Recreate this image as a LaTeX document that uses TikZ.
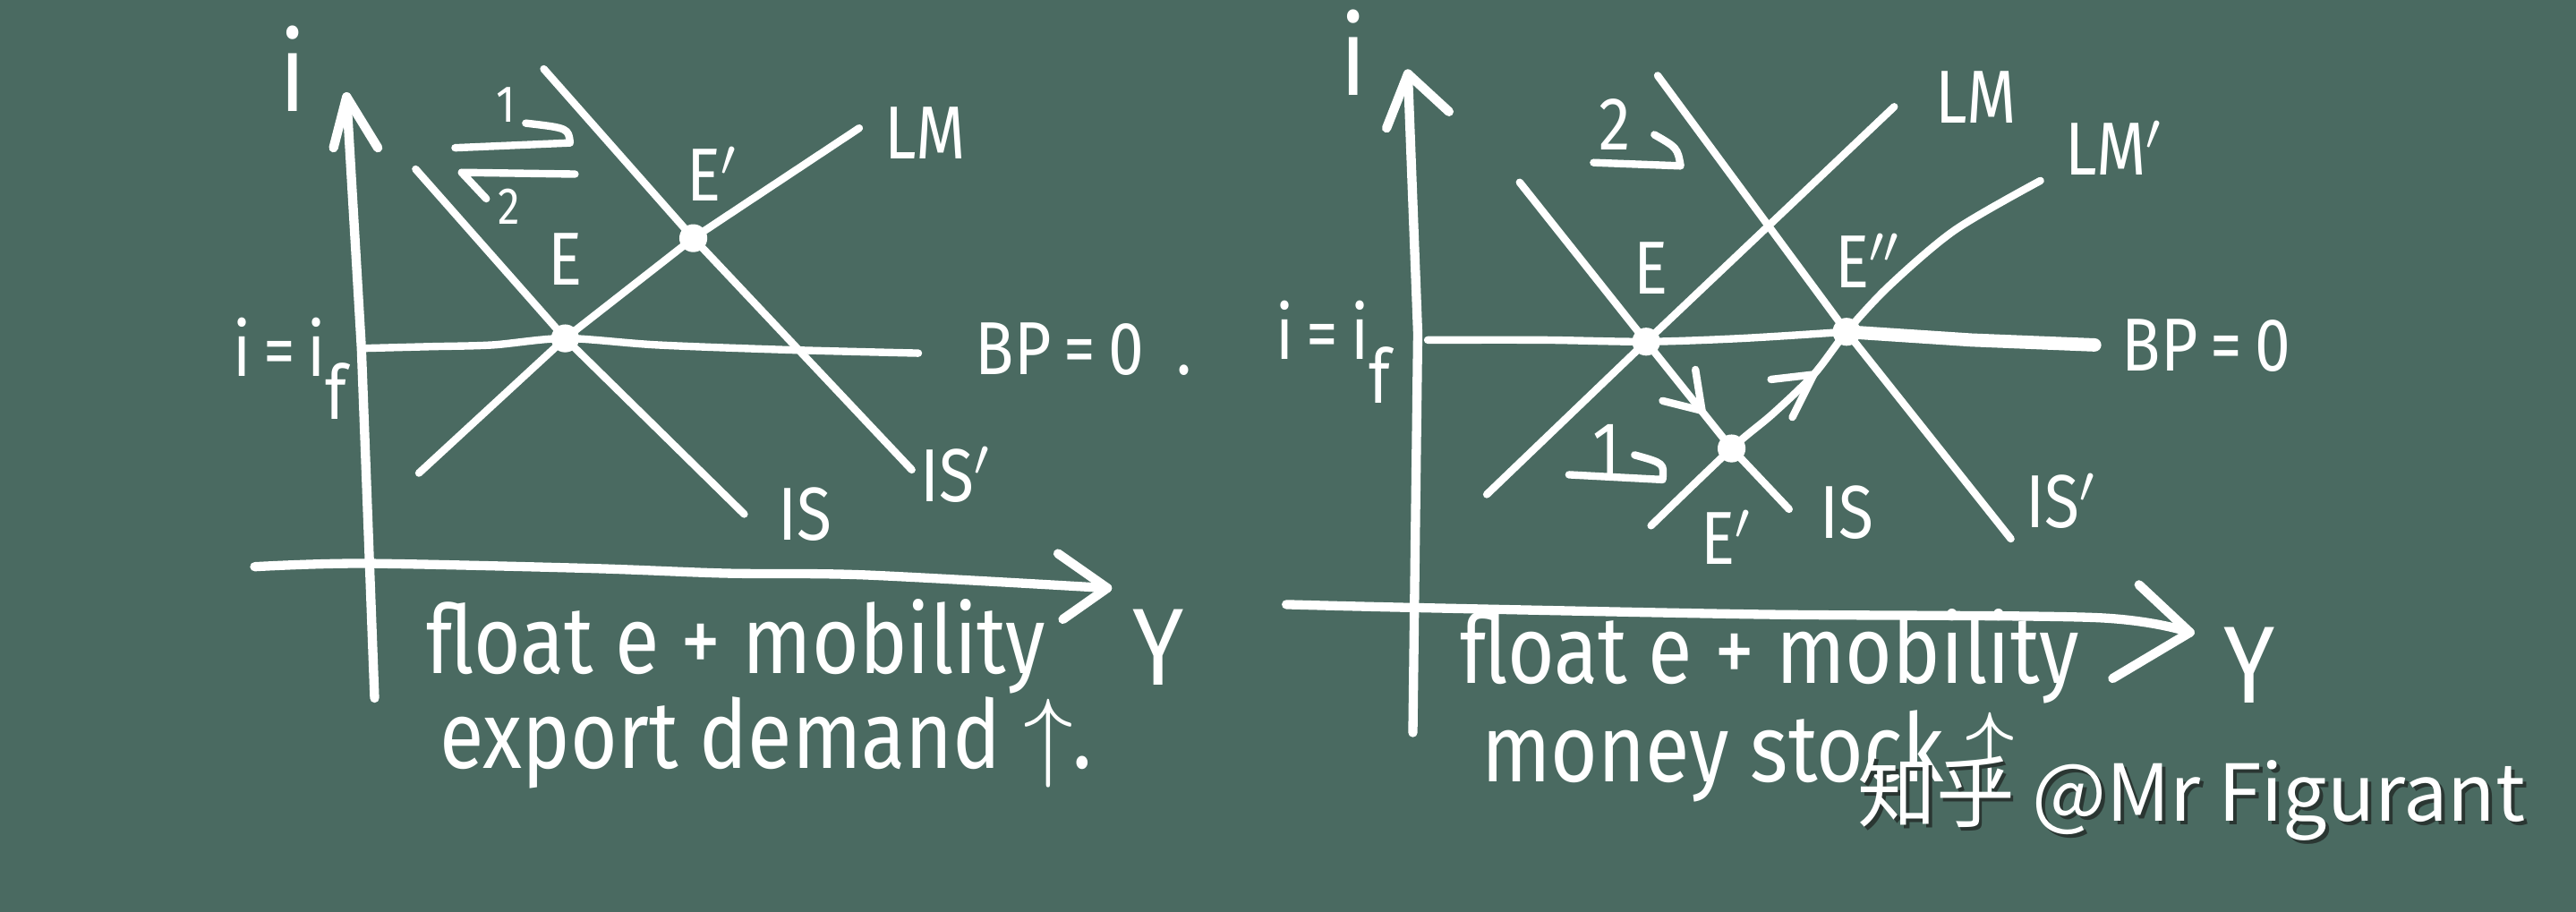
\documentclass[tikz,border=0pt]{standalone}
\usepackage{fontspec}
\setmainfont{Fira Sans}
\newfontfamily\hand[FakeStretch=0.85]{Fira Sans}
\newfontfamily\zhfont{Noto Sans CJK SC}
\definecolor{board}{RGB}{74,106,97}
\definecolor{shade}{RGB}{42,54,50}

\begin{document}
\begin{tikzpicture}[x=0.1mm,y=-0.1mm,
    chalk/.style={white,line width=1.3pt,line cap=round,line join=round},
    axis/.style={chalk,line width=1.6pt},
    dot/.style={circle,fill=white,minimum size=1.7mm,inner sep=0pt},
    lbl/.style={text=white,inner sep=0pt,font=\hand\fontsize{13}{15}\selectfont},
    num/.style={lbl,font=\hand\fontsize{9}{11}\selectfont},
    axlbl/.style={text=white,inner sep=0pt,font=\hand\fontsize{19}{22}\selectfont},
    caption/.style={text=white,inner sep=0pt,anchor=base west,font=\hand\fontsize{16.5}{20}\selectfont}]
\fill[board] (0,0) rectangle (1568,555);
\useasboundingbox (0,0) rectangle (1568,555);

% left diagram: export demand up
\node[dot] (E1) at (344,206) {};
\node[dot] (Ep1) at (422,145) {};
\coordinate (ytop1) at (211,59);
\coordinate (xtip1) at (674,358);
\draw[axis] (228,425) -- (220,212) -- (ytop1);
\draw[axis] (203,90) -- (ytop1) -- (230,90);
\draw[axis] plot[smooth] coordinates {(155,345) (221,343) (359,346) (442,349) (526,350) (xtip1)};
\draw[axis] (644,337) -- (xtip1) -- (647,377);
\draw[chalk] plot[smooth] coordinates {(223,212) (262,211) (300,210) (E1.center) (400,210) (480,213) (559,215)};
\draw[chalk] (255,288) -- (E1.center) -- (Ep1.center) -- (523,78);
\draw[chalk] (253,103) -- (E1.center) -- (453,313);
\draw[chalk] (331,42) -- (Ep1.center) -- (555,286);
\draw[chalk] (277,90) -- (347,87) .. controls (346,78) .. (320,75);
\draw[chalk] (350,106) -- (281,105) -- (296,121);

\node[axlbl] (i1) at (178,42) {i};
\node[axlbl] (Y1) at (705,394) {Y};
\node[lbl,anchor=base west] (if1) at (141,229) {i\,=\,i\raisebox{-1.1ex}{f}};
\node[lbl,anchor=base west] (bp1) at (593,228) {BP\,=\,0\hspace{2mm}.};
\node[lbl] (lE1) at (344,158) {E};
\node[lbl] (lEp1) at (434,106) {E$'$};
\node[lbl] (lLM1) at (563,81) {LM};
\node[lbl] (lIS1) at (490,313) {IS};
\node[lbl] (lISp1) at (582,289) {IS$'$};
\node[num] (n11) at (308,64) {1};
\node[num] (n21) at (310,126) {2};
\node[caption] (c11) at (259,410) {float e + mobility};
\node[caption] (c21) at (267,468) {export demand $\uparrow$.};

% right diagram: money stock up
\node[dot] (E2) at (1002,208) {};
\node[dot] (Epp2) at (1124,202) {};
\node[dot] (Ep2) at (1054,273) {};
\coordinate (ytop2) at (857,45);
\coordinate (xtip2) at (1333,385);
\draw[axis] (860,446) -- (863,203) -- (ytop2);
\draw[axis] (844,78) -- (ytop2) -- (882,68);
\draw[axis] plot[smooth] coordinates {(783,368) (865,370) (1071,374) (1276,376) (xtip2)};
\draw[axis] (1302,356) -- (xtip2) -- (1286,413);
\draw[chalk] plot[smooth] coordinates {(869,207) (940,207) (E2.center) (1060,206) (Epp2.center)};
\draw[chalk,line width=2.3pt] (Epp2.center) -- (1200,207) -- (1275,210);
\draw[chalk] (905,301) -- (E2.center) -- (1153,65);
\draw[chalk] plot[smooth] coordinates {(1005,320) (Ep2.center) (1079,252) (1104,228) (Epp2.center) (1150,174) (1190,140) (1242,110)};
\draw[chalk] (925,111) -- (E2.center) -- (Ep2.center) -- (1089,310);
\draw[chalk] (1009,46) -- (Epp2.center) -- (1224,328);
% small arrows along the path E -> E' -> E''
\coordinate (tipA) at (1036,250);
\coordinate (tipB) at (1104,228);
\draw[chalk] (tipA) ++(-24,-6) -- (tipA) -- ++(-4,-25);
\draw[chalk] (tipB) ++(-26,3) -- (tipB) -- ++(-13,26);
\draw[chalk] (970,99) -- (1023,101) .. controls (1021,90) .. (1007,82);
\draw[chalk] (955,289) -- (1012,292) .. controls (1013,282) .. (995,277);

\node[axlbl] (i2) at (824,32) {i};
\node[axlbl] (Y2) at (1369,405) {Y};
\node[lbl,anchor=base west] (if2) at (776,219) {i\,=\,i\raisebox{-1.1ex}{f}};
\node[lbl,anchor=base west] (bp2) at (1291,226) {BP\,=\,0};
\node[lbl] (lE2) at (1005,163) {E};
\node[lbl] (lEpp2) at (1137,159) {E$''$};
\node[lbl] (lEp2) at (1051,327) {E$'$};
\node[lbl] (lLM2) at (1203,59) {LM};
\node[lbl] (lLMp2) at (1287,90) {LM$'$};
\node[lbl] (lIS2) at (1124,312) {IS};
\node[lbl] (lISp2) at (1255,305) {IS$'$};
\node[lbl,anchor=base] (n12) at (978,289) {1};
\node[lbl] (n22) at (983,76) {2};
\node[caption] (c12) at (888,416) {float e + mobility};
\node[caption] (c22) at (901,476) {money stock $\uparrow$};

% watermark
\node[anchor=base west,inner sep=0pt,text=shade,font=\zhfont\fontsize{13.6}{16}\selectfont] (wms) at (1132,502) {知乎 @Mr Figurant};
\node[anchor=base west,inner sep=0pt,text=white,font=\zhfont\fontsize{13.6}{16}\selectfont] (wm) at (1130,500) {知乎 @Mr Figurant};
\end{tikzpicture}
\end{document}
